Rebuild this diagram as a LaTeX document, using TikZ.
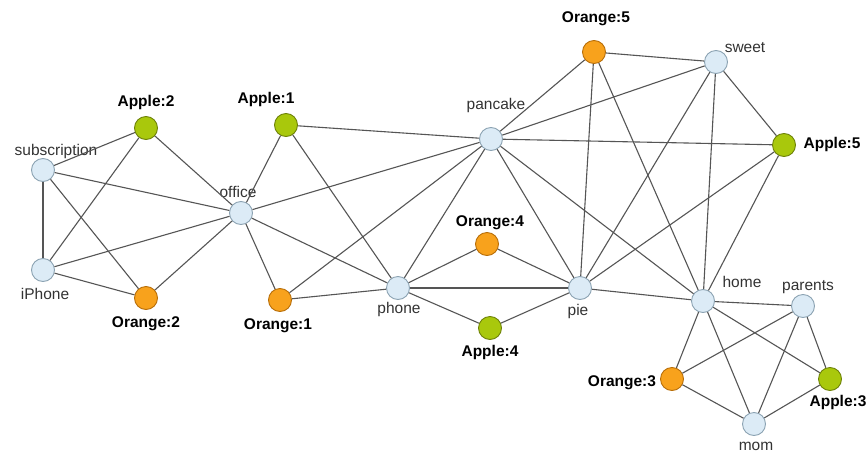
\documentclass[tikz,border=0pt]{standalone}
\usepackage{fontspec}
\setmainfont{Liberation Sans}
\begin{document}
\begin{tikzpicture}[x=1pt,y=-1pt,
  vtx/.style={circle,minimum size=23pt,inner sep=0pt,line width=0.9pt},
  word/.style={vtx,draw=wordline,fill=wordfill},
  apple/.style={vtx,draw=appleline,fill=applefill},
  orange/.style={vtx,draw=orangeline,fill=orangefill},
  lbl/.style={font=\fontsize{15.5}{18}\selectfont,text=txt,inner sep=0pt},
  blbl/.style={lbl,font=\fontsize{15.5}{18}\selectfont\bfseries,text=black},
  edge/.style={draw=edgecol,line width=1.1pt}]
\definecolor{wordfill}{HTML}{DCEBF6}
\definecolor{wordline}{HTML}{8CA3B3}
\definecolor{applefill}{HTML}{A9C80C}
\definecolor{appleline}{HTML}{6E8208}
\definecolor{orangefill}{HTML}{F8A21C}
\definecolor{orangeline}{HTML}{B86E08}
\definecolor{edgecol}{HTML}{555555}
\definecolor{txt}{HTML}{333333}
\useasboundingbox[fill=white] (0,0) rectangle (868,453);

% vertices
\node[word]   (sub)  at (43,170)  {};
\node[word]   (iph)  at (43,270)  {};
\node[apple]  (a2)   at (146,128) {};
\node[orange] (o2)   at (146,298) {};
\node[word]   (off)  at (241,213) {};
\node[apple]  (a1)   at (286,125) {};
\node[orange] (o1)   at (280,300) {};
\node[word]   (pho)  at (398,288) {};
\node[word]   (pan)  at (491,139) {};
\node[orange] (o4)   at (487,244) {};
\node[apple]  (a4)   at (490,328) {};
\node[word]   (pie)  at (580,288) {};
\node[orange] (o5)   at (594,52)  {};
\node[word]   (swe)  at (716,62)  {};
\node[apple]  (a5)   at (784,145) {};
\node[word]   (hom)  at (703,301) {};
\node[word]   (par)  at (803,306) {};
\node[orange] (o3)   at (672,379) {};
\node[apple]  (a3)   at (830,379) {};
\node[word]   (mom)  at (754,424) {};

% labels
\node[lbl]  (lsub) at (56,151)  {subscription};
\node[lbl]  (liph) at (45,294)  {iPhone};
\node[blbl] (la2)  at (146,102) {Apple:2};
\node[blbl] (lo2)  at (146,324) {Orange:2};
\node[lbl]  (loff) at (238,192) {office};
\node[blbl] (la1)  at (266,99)  {Apple:1};
\node[blbl] (lo1)  at (278,326) {Orange:1};
\node[lbl]  (lpho) at (399,309) {phone};
\node[lbl]  (lpan) at (496,105) {pancake};
\node[blbl] (lo4)  at (490,223) {Orange:4};
\node[blbl] (la4)  at (490,352) {Apple:4};
\node[lbl]  (lpie) at (578,311) {pie};
\node[blbl] (lo5)  at (596,19)  {Orange:5};
\node[lbl]  (lswe) at (745,48)  {sweet};
\node[blbl] (la5)  at (832,144) {Apple:5};
\node[lbl]  (lhom) at (742,282) {home};
\node[lbl]  (lpar) at (808,287) {parents};
\node[blbl] (lo3)  at (622,383) {Orange:3};
\node[blbl] (la3)  at (838,402) {Apple:3};
\node[lbl]  (lmom) at (756,446) {mom};

% connectors
\begin{scope}[every path/.style={edge}]
  % left group
  \draw (sub) -- (iph);  \draw (sub) -- (a2);  \draw (sub) -- (o2);  \draw (sub) -- (off);
  \draw (iph) -- (a2);   \draw (iph) -- (o2);  \draw (iph) -- (off);
  \draw (a2) -- (off);   \draw (o2) -- (off);
  % office group
  \draw (off) -- (a1);   \draw (off) -- (o1);  \draw (off) -- (pan); \draw (off) -- (pho);
  \draw (a1) -- (pan);   \draw (a1) -- (pho);
  \draw (o1) -- (pan);   \draw (o1) -- (pho);
  \draw (pho) -- (pan);  \draw (pho) -- (o4);  \draw (pho) -- (a4);  \draw (pho) -- (pie);
  \draw (o4) -- (pie);   \draw (a4) -- (pie);
  % upper right group
  \draw (pan) -- (pie);  \draw (pan) -- (hom); \draw (pan) -- (o5);  \draw (pan) -- (swe); \draw (pan) -- (a5);
  \draw (o5) -- (swe);   \draw (o5) -- (pie);  \draw (o5) -- (hom);
  \draw (swe) -- (a5);   \draw (swe) -- (pie); \draw (swe) -- (hom);
  \draw (a5) -- (pie);   \draw (a5) -- (hom);
  \draw (pie) -- (hom);
  % lower right group
  \draw (hom) -- (par);  \draw (hom) -- (o3);  \draw (hom) -- (mom); \draw (hom) -- (a3);
  \draw (par) -- (o3);   \draw (par) -- (mom); \draw (par) -- (a3);
  \draw (o3) -- (mom);   \draw (a3) -- (mom);
\end{scope}
\end{tikzpicture}
\end{document}
